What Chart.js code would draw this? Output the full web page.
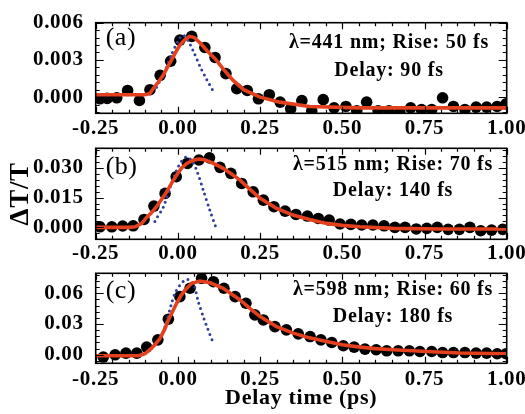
<!DOCTYPE html>
<html><head><meta charset="utf-8">
<script src="https://cdn.jsdelivr.net/npm/chart.js@4.4.1/dist/chart.umd.min.js"></script>
<style>
html,body{margin:0;padding:0;background:#fff;}
#wrap{position:relative;width:525px;height:414px;overflow:hidden;background:#fff;}
canvas{position:absolute;left:0;}
</style></head><body>
<div id="wrap">
<canvas id="ca" width="525" height="140" style="top:0px"></canvas>
<canvas id="cb" width="525" height="140" style="top:125px"></canvas>
<canvas id="cc" width="525" height="164" style="top:250px"></canvas>
</div>
<script>
// ---------- tick labels ----------
const xTickVals = [-0.25, 0, 0.25, 0.5, 0.75, 1.0];
const xTickLabels = ['-0.25', '0.00', '0.25', '0.50', '0.75', '1.00'];
const yTickValsA = [0, 0.003, 0.006];
const yTickLabelsA = ['0.000', '0.003', '0.006'];
const yTickValsB = [0, 0.015, 0.030];
const yTickLabelsB = ['0.000', '0.015', '0.030'];
const yTickValsC = [0, 0.03, 0.06];
const yTickLabelsC = ['0.00', '0.03', '0.06'];

// ---------- panel (a) ----------
const dotsAX = [-0.237,-0.215,-0.186,-0.153,-0.117,-0.085,-0.054,-0.022,0.006,0.042,0.082,0.113,0.146,0.179,0.211,0.245,0.278,0.311,0.343,0.377,0.407,0.442,0.475,0.511,0.544,0.574,0.609,0.642,0.675,0.708,0.741,0.772,0.805,0.838,0.873,0.907,0.939,0.971,0.998];
const dotsAY = [-0.00013,-0.0001,-0.00005,0.00054,-0.00027,0.0006,0.00176,0.0029,0.0046,0.0049,0.0040,0.0032,0.0019,0.00068,0.00054,-0.00013,0.0002,-0.0004,-0.00094,-0.00027,-0.0011,-0.0002,-0.00086,-0.00075,-0.0011,-0.0004,-0.0011,-0.0011,-0.0012,-0.00086,-0.001,-0.001,-0.00005,-0.00075,-0.001,-0.0008,-0.0008,-0.00075,-0.00054];
const fitAX = [-0.25,-0.15,-0.10,-0.085,-0.075,-0.06,-0.044,-0.03,-0.019,-0.005,0.006,0.02,0.035,0.05,0.07,0.09,0.113,0.14,0.168,0.20,0.25,0.31,0.40,0.55,1.00];
const fitAY = [0.0002,0.0002,0.0002,0.0003,0.0007,0.0012,0.0018,0.0025,0.0030,0.0037,0.0042,0.0046,0.0049,0.0048,0.0043,0.0037,0.0031,0.0022,0.00135,0.0006,0.0,-0.0004,-0.00075,-0.00086,-0.00086];
const irfAX = [-0.065,-0.054,-0.04,-0.02,0.0,0.015,0.03,0.047,0.067,0.088,0.105];
const irfAY = [0.0008,0.00135,0.0021,0.0034,0.0045,0.0050,0.0046,0.0037,0.0025,0.0014,0.0006];
const notesA = ['λ=441 nm; Rise: 50 fs', 'Delay: 90 fs'];

// ---------- panel (b) ----------
const dotsBX = [-0.237,-0.201,-0.168,-0.136,-0.103,-0.073,-0.039,-0.005,0.029,0.064,0.096,0.128,0.161,0.194,0.229,0.26,0.292,0.326,0.359,0.394,0.427,0.46,0.493,0.526,0.559,0.593,0.627,0.66,0.691,0.725,0.757,0.789,0.822,0.856,0.888,0.921,0.954,0.988];
const dotsBY = [0.0003,0.0003,0.0007,0.0008,0.004,0.0107,0.0171,0.0255,0.0322,0.0339,0.035,0.0302,0.0272,0.0221,0.0179,0.0137,0.0104,0.0082,0.0065,0.0057,0.0045,0.0037,0.0017,0.0015,0.0012,0.0012,0.0008,0.0,0.0,-0.0008,-0.0005,0.0,-0.001,-0.001,0.0,-0.0017,-0.0014,-0.001];
const fitBX = [-0.25,-0.15,-0.13,-0.11,-0.095,-0.08,-0.065,-0.05,-0.034,-0.02,-0.004,0.012,0.027,0.045,0.062,0.08,0.098,0.12,0.138,0.16,0.189,0.22,0.25,0.30,0.35,0.40,0.452,0.50,0.554,0.655,0.80,1.00];
const fitBY = [0.0,0.0,0.0003,0.0020,0.0050,0.0075,0.0104,0.0140,0.0179,0.0220,0.0263,0.0300,0.0322,0.0337,0.0344,0.0340,0.0330,0.0312,0.0297,0.0272,0.0238,0.0190,0.0146,0.0096,0.0062,0.0040,0.0020,0.0010,0.0003,-0.0005,-0.0008,-0.0008];
const irfBX = [-0.07,-0.065,-0.044,-0.023,-0.004,0.012,0.027,0.04,0.057,0.077,0.097,0.116];
const irfBY = [0.003,0.0045,0.0104,0.0204,0.0288,0.0335,0.0355,0.0340,0.0288,0.0188,0.0087,-0.0002];
const notesB = ['λ=515 nm; Rise: 70 fs', 'Delay: 140 fs'];

// ---------- panel (c) ----------
const dotsCX = [-0.227,-0.191,-0.158,-0.125,-0.095,-0.061,-0.029,0.006,0.037,0.072,0.108,0.14,0.174,0.207,0.234,0.26,0.295,0.33,0.366,0.402,0.435,0.468,0.503,0.536,0.569,0.603,0.635,0.67,0.704,0.736,0.772,0.805,0.838,0.873,0.907,0.939,0.971,0.998];
const dotsCY = [-0.0022,0,0.0016,0.0016,0.0075,0.0146,0.0347,0.0567,0.0649,0.0746,0.0713,0.0649,0.0567,0.0503,0.0389,0.034,0.0275,0.0243,0.0204,0.0178,0.0146,0.012,0.0088,0.0075,0.0055,0.0049,0.0039,0.0039,0.0039,0.0032,0.0032,0.0022,0.0022,0.0022,0.0016,0.0016,0.001,0.001];
const fitCX = [-0.25,-0.12,-0.10,-0.08,-0.067,-0.054,-0.04,-0.029,-0.015,-0.004,0.01,0.022,0.042,0.067,0.098,0.138,0.189,0.22,0.25,0.30,0.351,0.40,0.452,0.50,0.554,0.60,0.655,0.757,0.858,1.00];
const fitCY = [-0.001,-0.001,0.001,0.0065,0.011,0.0162,0.025,0.034,0.043,0.0503,0.058,0.0632,0.0697,0.0720,0.0703,0.0649,0.0535,0.045,0.0373,0.0275,0.0211,0.0165,0.0129,0.0098,0.0075,0.006,0.0049,0.0032,0.0017,0.001];
const irfCX = [-0.045,-0.035,-0.019,-0.009,0.006,0.02,0.03,0.047,0.062,0.077,0.092,0.106];
const irfCY = [0.022,0.032,0.0503,0.060,0.068,0.0725,0.0735,0.0697,0.0518,0.0373,0.0243,0.0129];
const notesC = ['λ=598 nm; Rise: 60 fs', 'Delay: 180 fs'];

const FONT = '"Liberation Serif", "Times New Roman", serif';
const RED = '#e5401e', BLUE = '#2e3d9c';

const zip = (xs, ys) => xs.map((x, i) => ({x, y: ys[i]}));

const spacing = {
  id: 'spacing',
  beforeDraw(chart) { if ('letterSpacing' in chart.ctx) chart.ctx.letterSpacing = '0.7px'; },
  afterDraw(chart) { if ('letterSpacing' in chart.ctx) chart.ctx.letterSpacing = '0px'; }
};

const frameTicks = {
  id: 'frameTicks',
  afterDatasetsDraw(chart, args, o) {
    const {ctx, chartArea: ca, scales: {x, y}} = chart;
    ctx.save();
    ctx.strokeStyle = '#000';
    ctx.lineWidth = 1.2;
    ctx.beginPath();
    for (let k = -5; k <= 20; k++) {
      const px = Math.round(x.getPixelForValue(k * 0.05)) + 0.5;
      const len = (k % 5 === 0) ? 6.5 : 3.5;
      ctx.moveTo(px, ca.bottom); ctx.lineTo(px, ca.bottom - len);
      ctx.moveTo(px, ca.top); ctx.lineTo(px, ca.top + len);
    }
    for (let k = o.yFrom; k <= o.yTo; k++) {
      const v = k * o.yStep;
      const py = Math.round(y.getPixelForValue(v)) + 0.5;
      if (py < ca.top - 0.5 || py > ca.bottom + 0.5) continue;
      const len = (k % o.yEvery === 0) ? 8 : 4;
      ctx.moveTo(ca.left, py); ctx.lineTo(ca.left + len, py);
      ctx.moveTo(ca.right, py); ctx.lineTo(ca.right - len, py);
    }
    ctx.stroke();
    ctx.lineWidth = 1.6;
    ctx.strokeRect(ca.left, ca.top, ca.right - ca.left, ca.bottom - ca.top);
    ctx.restore();
  }
};

const notesPlugin = {
  id: 'notes',
  afterDraw(chart, args, o) {
    const {ctx, chartArea: ca} = chart;
    ctx.save();
    ctx.fillStyle = '#000';
    if ('letterSpacing' in ctx) ctx.letterSpacing = '0.5px';
    ctx.font = '26px ' + FONT;
    ctx.textAlign = 'left';
    ctx.textBaseline = 'middle';
    ctx.fillText(o.label, ca.left + 10, ca.top + o.labelDy);
    ctx.font = 'bold 20px ' + FONT;
    ctx.textAlign = 'center';
    ctx.textBaseline = 'alphabetic';
    if ('letterSpacing' in ctx) ctx.letterSpacing = '0.8px';
    o.lines.forEach((t, i) => ctx.fillText(t, o.cx, ca.top + o.dy[i]));
    ctx.restore();
  }
};

function makePanel(id, cfg) {
  const datasets = [
    {data: zip(cfg.fitX, cfg.fitY), showLine: true, borderColor: RED, borderWidth: 3.6, pointRadius: 0, tension: 0, fill: false, clip: 0},
    {data: zip(cfg.irfX, cfg.irfY), showLine: true, borderColor: BLUE, borderWidth: 3, borderDash: [0, 5.5], borderCapStyle: 'round', pointRadius: 0, tension: 0.3, fill: false, clip: 0},
    {data: zip(cfg.dotsX, cfg.dotsY), showLine: false, pointRadius: 5.8, pointBackgroundColor: '#000', pointBorderWidth: 0, pointHoverRadius: 5.8, clip: 0}
  ];
  return new Chart(document.getElementById(id), {
    type: 'scatter',
    data: {datasets},
    options: {
      responsive: false,
      animation: false,
      events: [],
      layout: {padding: {left: 0, right: 18.3, top: cfg.padTop, bottom: 0}},
      plugins: {
        legend: {display: false},
        tooltip: {enabled: false},
        frameTicks: cfg.ticks,
        notes: cfg.notes
      },
      scales: {
        x: {
          type: 'linear', min: -0.25, max: 1.0,
          grid: {display: false, drawTicks: false},
          border: {display: false},
          afterBuildTicks: s => { s.ticks = xTickVals.map(v => ({value: v})); },
          ticks: {
            color: '#000', padding: cfg.xPad,
            font: {family: FONT, size: 21, weight: 'bold'},
            maxRotation: 0, autoSkip: false,
            callback: (v, i) => xTickLabels[i]
          },
          title: cfg.xTitle || {display: false},
          afterFit: s => { s.height = cfg.xHeight; s.paddingLeft = 0; s.paddingRight = 0; }
        },
        y: {
          type: 'linear', min: cfg.yMin, max: cfg.yMax,
          grid: {display: false, drawTicks: false},
          border: {display: false},
          afterBuildTicks: s => { s.ticks = cfg.yVals.map(v => ({value: v})); },
          ticks: {
            color: '#000', padding: 12,
            font: {family: FONT, size: 21, weight: 'bold'},
            autoSkip: false,
            callback: (v, i) => cfg.yLabels[i]
          },
          title: cfg.yTitle || {display: false},
          afterFit: s => { s.width = 95.7; s.paddingTop = 0; s.paddingBottom = 0; }
        }
      }
    },
    plugins: [spacing, frameTicks, notesPlugin]
  });
}

makePanel('ca', {
  dotsX: dotsAX, dotsY: dotsAY, fitX: fitAX, fitY: fitAY, irfX: irfAX, irfY: irfAY,
  yMin: -0.0013, yMax: 0.006, yVals: yTickValsA, yLabels: yTickLabelsA,
  padTop: 22.7, xHeight: 26.7, xPad: 2.5,
  ticks: {yStep: 0.0006, yFrom: -2, yTo: 10, yEvery: 5},
  notes: {label: '(a)', labelDy: 15.5, lines: notesA, cx: 389, dy: [25.6, 53.3]},
});
makePanel('cb', {
  dotsX: dotsBX, dotsY: dotsBY, fitX: fitBX, fitY: fitBY, irfX: irfBX, irfY: irfBY,
  yMin: -0.006, yMax: 0.0398, yVals: yTickValsB, yLabels: yTickLabelsB,
  padTop: 23.3, xHeight: 25.7, xPad: 1.5,
  ticks: {yStep: 0.003, yFrom: -2, yTo: 13, yEvery: 5},
  notes: {label: '(b)', labelDy: 18.5, lines: notesB, cx: 393, dy: [21.7, 47.7]},
  yTitle: {display: true, text: 'ΔT/T', color: '#000', font: {family: FONT, size: 27, weight: 'bold'}, padding: {top: 5, bottom: 0}}
});
makePanel('cc', {
  dotsX: dotsCX, dotsY: dotsCY, fitX: fitCX, fitY: fitCY, irfX: irfCX, irfY: irfCY,
  yMin: -0.0083, yMax: 0.0795, yVals: yTickValsC, yLabels: yTickLabelsC,
  padTop: 23.3, xHeight: 50.7, xPad: 4,
  ticks: {yStep: 0.006, yFrom: -1, yTo: 13, yEvery: 5},
  notes: {label: '(c)', labelDy: 17.7, lines: notesC, cx: 393, dy: [21.7, 48.4]},
  xTitle: {display: true, text: 'Delay time (ps)', color: '#000', font: {family: FONT, size: 22, weight: 'bold'}, padding: {top: 0, bottom: 2}}
});
</script>
</body></html>
